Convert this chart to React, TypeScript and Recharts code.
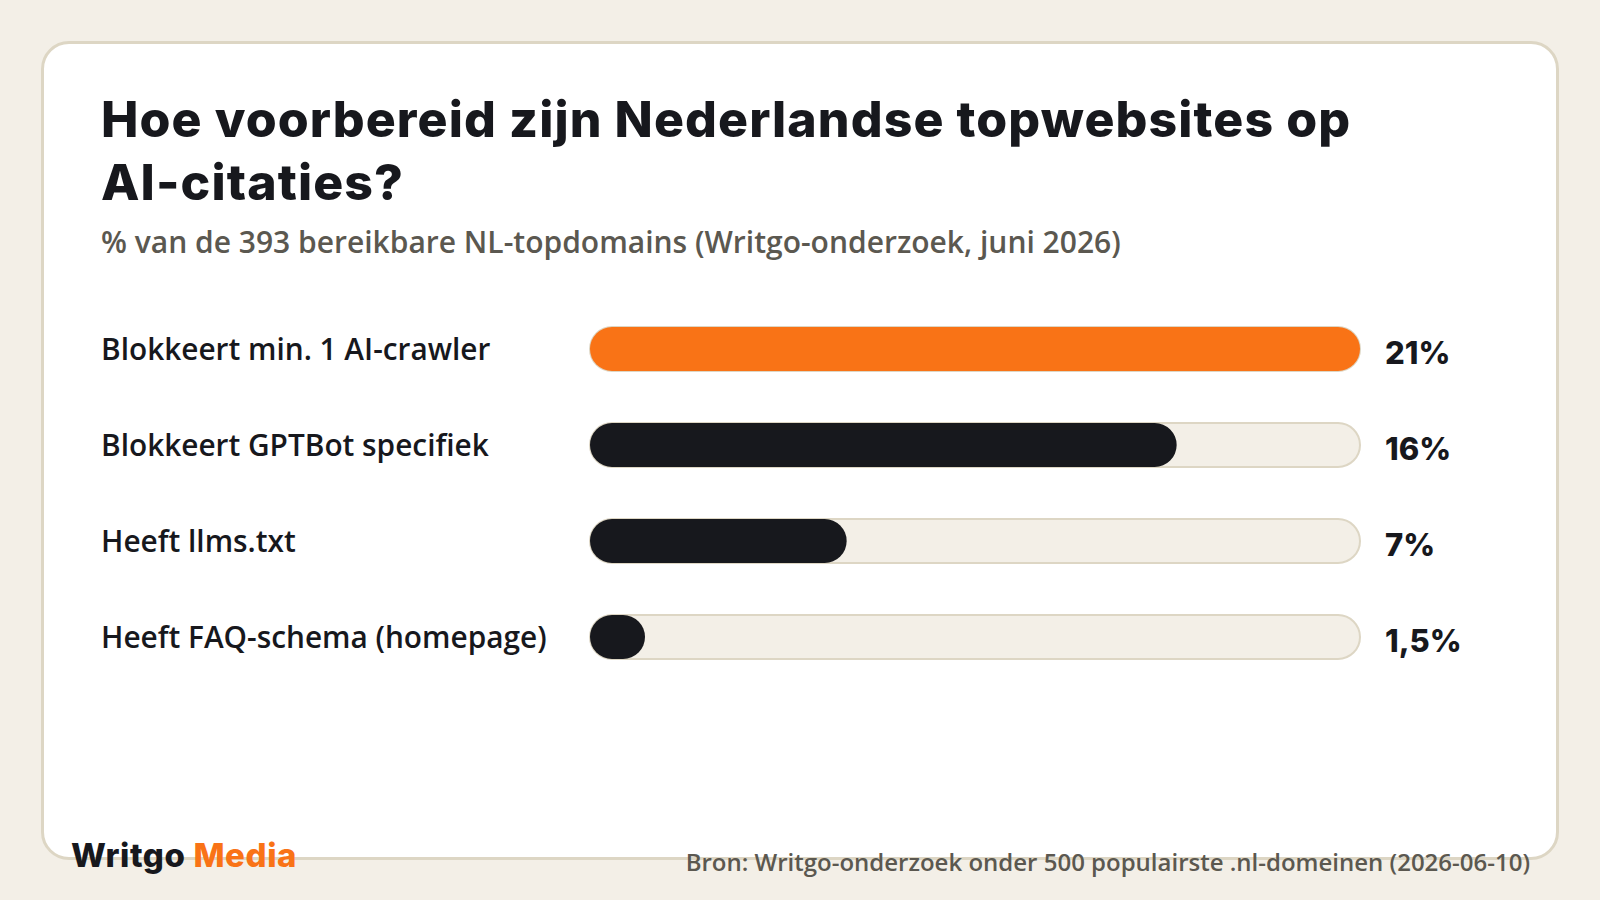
import { Bar, BarChart, Cell, XAxis, YAxis } from 'recharts';

const categories = [
  'Blokkeert min. 1 AI-crawler',
  'Blokkeert GPTBot specifiek',
  'Heeft llms.txt',
  'Heeft FAQ-schema (homepage)',
];
const percentages = [21, 16, 7, 1.5];
const valueLabels = ['21%', '16%', '7%', '1,5%'];
const highlight = [true, false, false, false];

const ORANGE = '#f97316';
const INK = '#17181d';
const TRACK = '#f3efe7';
const TRACK_BORDER = '#ddd6c4';
const MUTED = '#5b5850';

const data = categories.map((name, i) => ({
  name,
  pct: percentages[i],
  label: valueLabels[i],
  highlight: highlight[i],
}));

function CategoryTick(props: any) {
  const { y, payload } = props;
  return (
    <text
      x={0}
      y={y}
      dy={11}
      textAnchor="start"
      fontFamily="'Open Sans', sans-serif"
      fontWeight={600}
      fontSize={29.8}
      fill={INK}
    >
      {payload.value}
    </text>
  );
}

function ValueTick(props: any) {
  const { x, y, payload } = props;
  return (
    <text
      x={x + 17}
      y={y}
      dy={15}
      textAnchor="start"
      fontFamily="Inter, sans-serif"
      fontWeight={800}
      fontSize={31}
      fill={INK}
    >
      {payload.value}
    </text>
  );
}

export default function App() {
  return (
    <div
      style={{
        position: 'absolute',
        left: 0,
        top: 0,
        width: 1600,
        height: 900,
        background: TRACK,
        overflow: 'hidden',
      }}
    >
      <div
        style={{
          position: 'absolute',
          left: 41,
          top: 41,
          width: 1512,
          height: 813,
          background: '#ffffff',
          border: `3px solid ${TRACK_BORDER}`,
          borderRadius: 28,
        }}
      />
      <div
        style={{
          position: 'absolute',
          left: 101,
          top: 88,
          width: 1450,
          fontFamily: 'Inter, sans-serif',
          fontWeight: 800,
          fontSize: 50,
          lineHeight: '63px',
          color: INK,
          letterSpacing: 1.1,
          whiteSpace: 'nowrap',
        }}
      >
        Hoe voorbereid zijn Nederlandse topwebsites op
        <br />
        AI-citaties?
      </div>
      <div
        style={{
          position: 'absolute',
          left: 101,
          top: 221,
          fontFamily: "'Open Sans', sans-serif",
          fontWeight: 600,
          fontSize: 30,
          color: MUTED,
          whiteSpace: 'nowrap',
        }}
      >
        % van de 393 bereikbare NL-topdomains (Writgo-onderzoek, juni 2026)
      </div>

      <div style={{ position: 'absolute', left: 101, top: 301 }}>
        <BarChart
          width={1399}
          height={384}
          data={data}
          layout="vertical"
          margin={{ top: 0, right: 0, bottom: 0, left: 0 }}
          barSize={44}
        >
          <XAxis type="number" domain={[0, 21]} hide />
          <YAxis
            yAxisId="left"
            type="category"
            dataKey="name"
            width={489}
            axisLine={false}
            tickLine={false}
            tick={<CategoryTick />}
          />
          <YAxis
            yAxisId="right"
            orientation="right"
            type="category"
            dataKey="label"
            width={140}
            axisLine={false}
            tickLine={false}
            tick={<ValueTick />}
          />
          <Bar
            yAxisId="left"
            dataKey="pct"
            radius={22}
            isAnimationActive={false}
            background={{ fill: TRACK, stroke: TRACK_BORDER, strokeWidth: 2, radius: 22 }}
          >
            {data.map((d) => (
              <Cell key={d.name} fill={d.highlight ? ORANGE : INK} />
            ))}
          </Bar>
        </BarChart>
      </div>

      <div
        style={{
          position: 'absolute',
          left: 71,
          top: 835,
          fontFamily: 'Inter, sans-serif',
          fontWeight: 800,
          fontSize: 33,
          color: INK,
          letterSpacing: 0.6,
          whiteSpace: 'nowrap',
        }}
      >
        Writgo <span style={{ color: ORANGE }}>Media</span>
      </div>
      <div
        style={{
          position: 'absolute',
          right: 70,
          top: 845,
          fontFamily: "'Open Sans', sans-serif",
          fontWeight: 600,
          fontSize: 24,
          color: MUTED,
          whiteSpace: 'nowrap',
        }}
      >
        Bron: Writgo-onderzoek onder 500 populairste .nl-domeinen (2026-06-10)
      </div>
    </div>
  );
}
